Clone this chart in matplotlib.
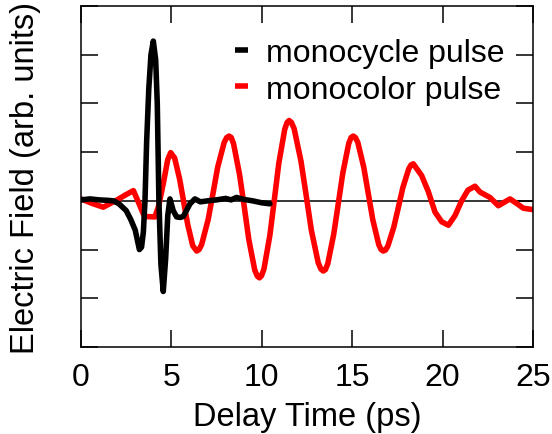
import numpy as np
import matplotlib
matplotlib.use('Agg')
import matplotlib.pyplot as plt

plt.rcParams['font.family'] = ['Liberation Sans', 'DejaVu Sans']

# monocycle pulse (black)
cycleT = [0.0, 0.5, 1.0, 1.5, 1.8, 2.1, 2.5, 2.75, 3.0, 3.23, 3.35, 3.45, 3.54,
          3.63, 3.75, 3.87, 4.0, 4.13, 4.22, 4.31, 4.42, 4.55, 4.68, 4.8, 4.92,
          5.1, 5.29, 5.5, 5.66, 6.03, 6.3, 6.6, 7.0, 7.5, 8.0, 8.3, 8.6, 9.0,
          9.5, 10.0, 10.45]
cycleE = [0.02, 0.04, 0.02, 0.01, 0.0, -0.06, -0.2, -0.38, -0.6, -1.0, -0.95,
          -0.64, 0.0, 1.2, 2.3, 3.0, 3.28, 2.9, 2.0, 0.0, -1.3, -1.86, -1.2,
          -0.3, 0.04, -0.2, -0.33, -0.34, -0.32, -0.06, 0.04, -0.02, 0.0, 0.02,
          0.05, 0.02, 0.07, 0.03, 0.0, -0.04, -0.06]

# monocolor pulse (red)
colorT = [0.0, 0.6, 1.23, 2.0, 2.5, 2.9, 3.26, 3.5, 4.09, 4.3, 4.55, 4.8, 4.96,
          5.18, 5.46, 5.68, 5.90, 6.18, 6.4,
          6.53, 6.67, 7.03, 7.30, 7.56, 7.92, 8.06, 8.19,
          8.31, 8.44, 8.77, 9.03, 9.28, 9.61, 9.75, 9.87,
          9.98, 10.12, 10.45, 10.70, 10.94, 11.27, 11.40, 11.51,
          11.64, 11.79, 12.17, 12.46, 12.74, 13.12, 13.27, 13.4,
          13.52, 13.65, 13.98, 14.23, 14.48, 14.81, 14.94, 15.06,
          15.18, 15.31, 15.64, 15.89, 16.14, 16.47, 16.60, 16.72,
          16.84, 16.97, 17.30, 17.55, 17.80, 18.13, 18.26, 18.38,
          18.84, 19.2, 19.58, 19.95, 20.32, 20.69, 21.05, 21.4, 21.79, 22.07,
          22.62, 23.08, 23.73, 24.2, 24.46, 25.0]
colorE = [0.04, -0.05, -0.13, 0.02, 0.13, 0.21, -0.1, -0.32, -0.33, -0.1, 0.35, 0.85, 0.99,
          0.88, 0.44, -0.02, -0.48, -0.92, -1.03,
          -1.0, -0.90, -0.39, 0.15, 0.69, 1.20, 1.30, 1.33,
          1.30, 1.17, 0.54, -0.12, -0.79, -1.42, -1.545, -1.58,
          -1.54, -1.40, -0.70, 0.04, 0.77, 1.47, 1.61, 1.65,
          1.61, 1.48, 0.81, 0.10, -0.60, -1.27, -1.40, -1.44,
          -1.41, -1.29, -0.68, -0.06, 0.57, 1.18, 1.30, 1.33,
          1.30, 1.20, 0.69, 0.15, -0.39, -0.90, -1.0, -1.03,
          -1.01, -0.93, -0.54, -0.14, 0.27, 0.66, 0.74, 0.76,
          0.52, 0.2, -0.23, -0.43, -0.5, -0.3, 0.0, 0.22, 0.30, 0.18,
          0.07, -0.1, 0.04, -0.08, -0.15, -0.18]

xTicks = [0, 5, 10, 15, 20, 25]
yTicks = [-3, -2, -1, 0, 1, 2, 3, 4]

fig = plt.figure(figsize=(5.52, 4.35), dpi=100)
ax = fig.add_axes([0.1467, 0.2, 0.8189, 0.7839])

ax.axhline(0, color='black', lw=1.1, zorder=1)
ax.plot(cycleT, cycleE, color='black', lw=4.0, label='monocycle pulse',
        solid_joinstyle='round', solid_capstyle='round', zorder=3)
ax.plot(colorT, colorE, color='#ff0000', lw=4.0, label='monocolor pulse',
        solid_joinstyle='round', solid_capstyle='round', zorder=2)

ax.set_xlim(0, 25)
ax.set_ylim(-3, 4)
ax.set_xticks(xTicks)
ax.set_yticks(yTicks)
ax.set_yticklabels([])
ax.tick_params(direction='in', length=12, width=1.1, top=True, right=True,
               labelsize=23, pad=11)
for s in ax.spines.values():
    s.set_linewidth(1.1)

ax.set_xlabel('Delay Time (ps)', fontsize=23.5, labelpad=6)
ax.set_ylabel('Electric Field (arb. units)', fontsize=23.5, labelpad=18)

leg = ax.legend(loc='upper left', bbox_to_anchor=(0.425, 0.91),
                bbox_transform=fig.transFigure, frameon=False, fontsize=23,
                handlelength=0.42, handletextpad=0.55, labelspacing=0.2,
                borderpad=0, borderaxespad=0)
for h in leg.get_lines():
    h.set_solid_capstyle('butt')

fig.savefig('out.png', dpi=100)
